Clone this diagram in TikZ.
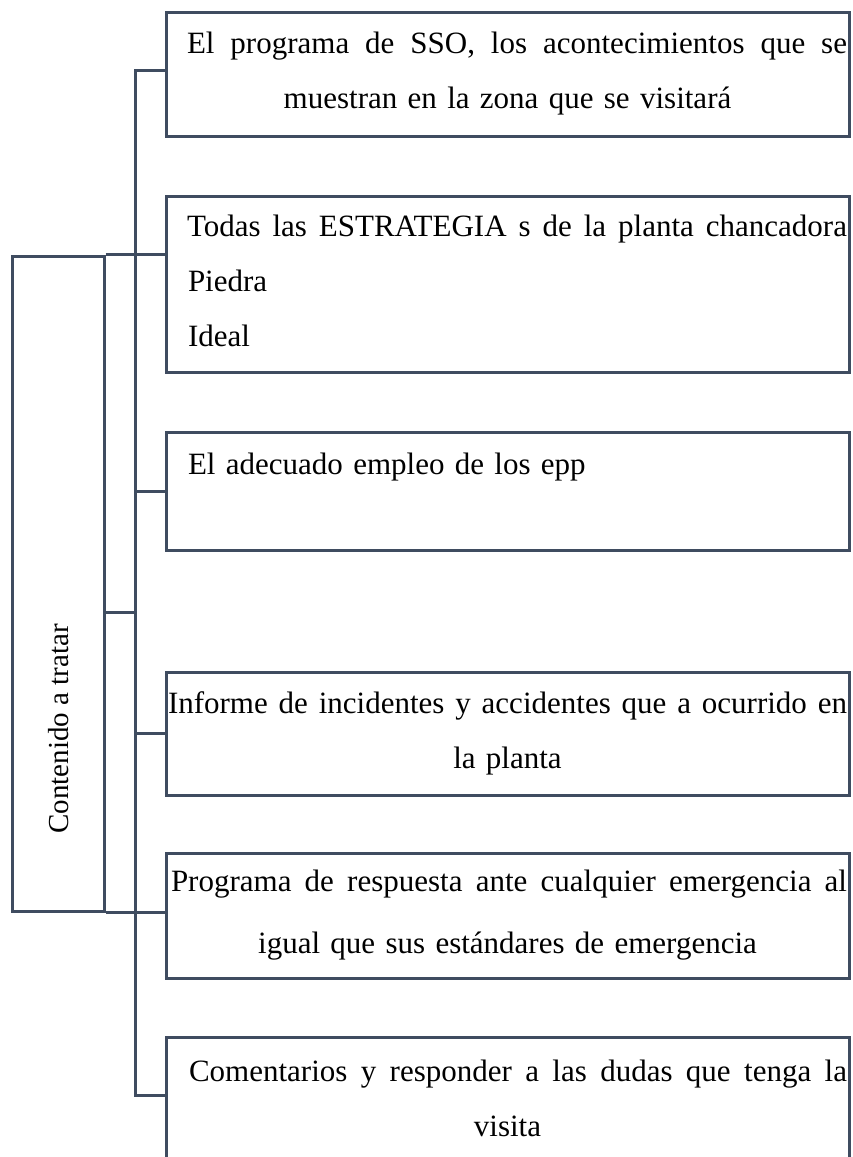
\documentclass[tikz,border=0pt]{standalone}
\usepackage{fontspec}
\setmainfont{Liberation Serif}
\definecolor{marco}{RGB}{63,76,96}
% first line of a box, stretched to a fixed width and set flush right
\newcommand{\llena}[2]{\makebox[679pt][r]{\makebox[#1][s]{\spaceskip=0.25em plus 1em minus 0.05em #2}}}

\begin{document}
\begin{tikzpicture}[x=1pt,y=-1pt,line width=3pt,
  caja/.style={draw=marco,line width=3pt,minimum width=683pt,inner sep=0pt,text width=679pt,align=center,font=\fontsize{31}{55}\selectfont}]
\useasboundingbox (0,0) rectangle (853,1157);

\node[caja,minimum height=124pt] (b1) at (507.5,74) {\llena{660pt}{El programa de SSO, los acontecimientos que se}\\muestran en la zona que se visitará};
\node[caja,minimum height=176pt,align=left] (b2) at (507.5,284) {\llena{660pt}{Todas las ESTRATEGIA s de la planta chancadora}\\\hspace*{20pt}Piedra\\\hspace*{20pt}Ideal\vphantom{p}};
\node[caja,minimum height=118pt,align=left] (b3) at (507.5,491) {\hspace*{20pt}El adecuado empleo de los epp\\\mbox{}};
\node[caja,minimum height=123pt] (b4) at (507.5,733.5) {\llena{679pt}{Informe de incidentes y accidentes que a ocurrido en}\\la planta};
\node[caja,minimum height=125pt] (b5) at (507.5,915.5) {\llena{676pt}{Programa de respuesta ante cualquier emergencia al}\\[7pt]igual que sus estándares de emergencia};
\node[caja,minimum height=177pt] (b6) at (507.5,1125.5) {\llena{658pt}{Comentarios y responder a las dudas que tenga la}\\visita\\\mbox{}};

\node[draw=marco,minimum width=92pt,minimum height=655pt] (tema) at (58,583.5) {};
\node[rotate=90,font=\fontsize{29}{35}\selectfont] (titulo) at (59,729) {Contenido a tratar};

\coordinate (top) at (135,70);
\coordinate (bot) at (135,1095);
\draw[marco] (top -| b1.west) -- (top) -- (bot) -- (bot -| b6.west);
\draw[marco] (tema.north east) -- (tema.north east -| b2.west);
\draw[marco] (b3.west -| top) -- (b3.west);
\draw[marco] (b4.west -| top) -- (b4.west);
\draw[marco] (tema.south east) -- (tema.south east -| b5.west);
\draw[marco] (tema.east |- 0,612) -- (top |- 0,612);

\end{tikzpicture}
\end{document}
